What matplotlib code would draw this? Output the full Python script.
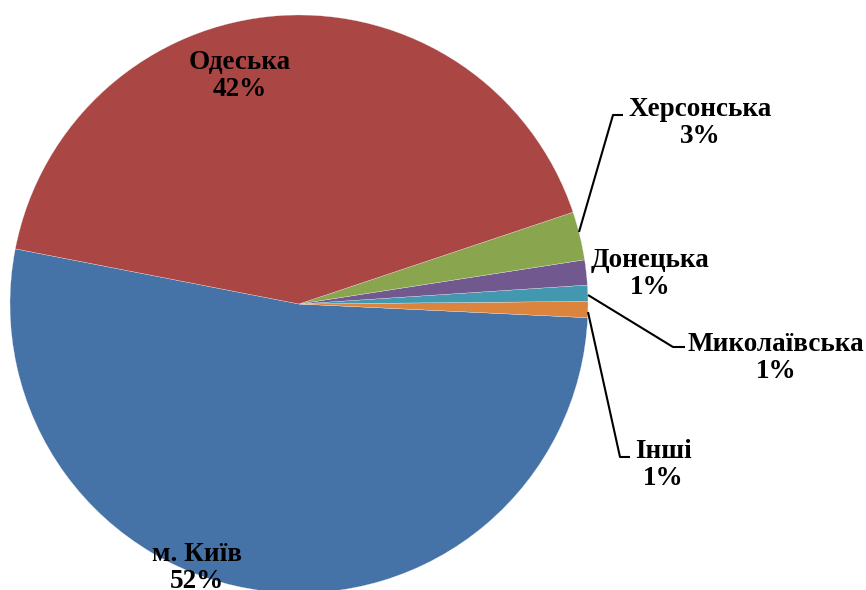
import matplotlib
matplotlib.use("Agg")
import matplotlib.pyplot as plt

categories = ["м. Київ", "Інші", "Миколаївська", "Донецька", "Херсонська", "Одеська"]
values = [52.3, 0.9, 0.9, 1.4, 2.7, 41.8]
colors = ["#4572A7", "#DB843D", "#4198AF", "#71588F", "#89A54E", "#AA4643"]

W, H = 866, 590
fig = plt.figure(figsize=(W / 100, H / 100), dpi=100)
ax = fig.add_axes([0, 0, 1, 1])

def py(y):
    return H - y

cx, cy, r = 299, py(304), 289
ax.pie(values, colors=colors, startangle=169, counterclock=True,
       center=(cx, cy), radius=r,
       wedgeprops=dict(edgecolor="#f0f0f0", linewidth=0.2))
ax.set_xlim(0, W)
ax.set_ylim(0, H)
ax.set_aspect("equal")
ax.axis("off")

# label positions (pixel coords of text center)
label_pos = {
    "м. Київ": (197, 568),
    "Інші": (663, 465),
    "Миколаївська": (776, 358),
    "Донецька": (650, 274),
    "Херсонська": (700, 123),
    "Одеська": (240, 76),
}
font = dict(family=["Liberation Serif", "DejaVu Serif"], fontweight="bold", fontsize=19.5)
for cat, v in zip(categories, values):
    x, y = label_pos[cat]
    ax.text(x, py(y), f"{cat}\n{round(v)}%", ha="center", va="center",
            linespacing=1.08, color="black", **font)

# leader lines (pixel coords)
leaders = [
    [(579, 232), (613, 115), (623, 115)],
    [(588, 295), (673, 347), (685, 347)],
    [(588, 312), (620, 457), (630, 457)],
]
for pts in leaders:
    xs = [p[0] for p in pts]
    ys = [py(p[1]) for p in pts]
    ax.plot(xs, ys, color="black", linewidth=1.5, solid_capstyle="butt")

fig.savefig("out.png", dpi=100)
